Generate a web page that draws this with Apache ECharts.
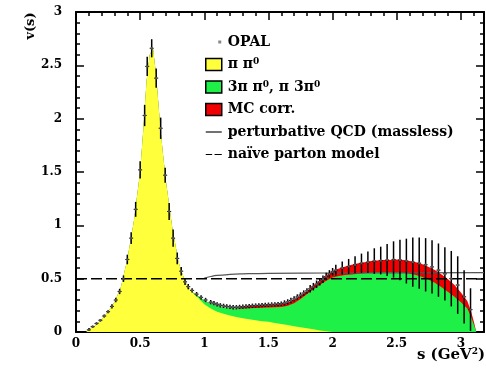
<!DOCTYPE html>
<html>
<head>
<meta charset="utf-8">
<script src="https://cdn.jsdelivr.net/npm/echarts@6/dist/echarts.min.js"></script>
<style>
html, body { margin: 0; padding: 0; background: #fff; }
#chart { width: 486px; height: 373px; }
</style>
</head>
<body>
<div id="chart"></div>
<script>
// bin centres of the stacked contributions (GeV^2)
var sBin = [0.08, 0.10, 0.15, 0.20, 0.25, 0.30, 0.35, 0.40, 0.45, 0.50,
    0.525, 0.55, 0.575, 0.60, 0.625, 0.65, 0.675, 0.70, 0.75, 0.80,
    0.85, 0.90, 0.95, 1.00, 1.05, 1.10, 1.15, 1.20, 1.25, 1.30,
    1.35, 1.40, 1.45, 1.50, 1.55, 1.60, 1.65, 1.70, 1.75, 1.80,
    1.85, 1.90, 1.95, 2.00, 2.05, 2.10, 2.15, 2.20, 2.25, 2.30,
    2.35, 2.40, 2.45, 2.50, 2.55, 2.60, 2.65, 2.70, 2.75, 2.80,
    2.85, 2.90, 2.95, 3.00, 3.05, 3.08, 3.10, 3.12];
// pi pi0 contribution
var vPiPi0 = [0, 0.02, 0.06, 0.12, 0.19, 0.28, 0.42, 0.68, 1.03, 1.50,
    1.90, 2.35, 2.60, 2.66, 2.40, 2.02, 1.70, 1.42, 0.98, 0.65,
    0.47, 0.38, 0.32, 0.26, 0.22, 0.19, 0.17, 0.155, 0.14, 0.13,
    0.12, 0.11, 0.10, 0.095, 0.085, 0.075, 0.065, 0.055, 0.045, 0.035,
    0.025, 0.015, 0.008, 0, 0, 0, 0, 0, 0, 0,
    0, 0, 0, 0, 0, 0, 0, 0, 0, 0,
    0, 0, 0, 0, 0, 0, 0, 0];
// 3pi pi0, pi 3pi0 contribution
var vFourPi = [0, 0, 0, 0, 0, 0, 0, 0, 0, 0,
    0, 0, 0, 0, 0, 0, 0, 0, 0, 0,
    0, 0, 0.02, 0.035, 0.045, 0.055, 0.06, 0.067, 0.078, 0.09,
    0.102, 0.115, 0.128, 0.135, 0.147, 0.16, 0.18, 0.215, 0.265, 0.32,
    0.375, 0.425, 0.472, 0.51, 0.525, 0.535, 0.54, 0.545, 0.55, 0.555,
    0.56, 0.56, 0.56, 0.56, 0.555, 0.545, 0.535, 0.515, 0.49, 0.46,
    0.42, 0.375, 0.33, 0.28, 0.22, 0.14, 0.07, 0];
// MC corrections
var vMcCorr = [0, 0, 0, 0, 0, 0, 0, 0, 0, 0,
    0, 0, 0, 0, 0, 0, 0, 0, 0, 0,
    0, 0, 0, 0, 0, 0, 0, 0, 0, 0.02,
    0.025, 0.025, 0.025, 0.025, 0.025, 0.025, 0.03, 0.03, 0.03, 0.03,
    0.035, 0.04, 0.05, 0.06, 0.07, 0.08, 0.09, 0.10, 0.105, 0.11,
    0.11, 0.115, 0.115, 0.12, 0.12, 0.12, 0.12, 0.12, 0.12, 0.12,
    0.12, 0.12, 0.11, 0.09, 0.07, 0.05, 0.03, 0];

// OPAL points
var sOpal = [0.10, 0.13, 0.16, 0.19, 0.22, 0.25, 0.28, 0.31, 0.34, 0.37,
    0.40, 0.43, 0.465, 0.50, 0.535, 0.555, 0.59, 0.625, 0.66, 0.695,
    0.726, 0.757, 0.789, 0.82, 0.85, 0.875, 0.905, 0.94, 0.975, 1.01, 1.05,
    1.075, 1.100, 1.125, 1.150, 1.175, 1.200, 1.225, 1.250, 1.275, 1.300,
    1.325, 1.350, 1.375, 1.400, 1.425, 1.450, 1.475, 1.500, 1.525, 1.550,
    1.575, 1.600, 1.625, 1.650, 1.675, 1.700, 1.725, 1.750, 1.775, 1.800,
    1.825, 1.850, 1.875, 1.900, 1.925, 1.950, 1.975, 2.000,
    2.025, 2.075, 2.125, 2.175, 2.225, 2.275, 2.325, 2.375, 2.425, 2.475,
    2.525, 2.575, 2.625, 2.675, 2.725, 2.775, 2.825, 2.875, 2.925, 2.975,
    3.025, 3.075];
var vOpal = [0.02, 0.05, 0.08, 0.11, 0.15, 0.19, 0.24, 0.30, 0.38, 0.50,
    0.68, 0.88, 1.15, 1.52, 2.03, 2.49, 2.66, 2.38, 1.91, 1.47,
    1.13, 0.88, 0.69, 0.57, 0.47, 0.425, 0.39, 0.355, 0.325, 0.30, 0.28,
    0.27, 0.26, 0.25, 0.245, 0.24, 0.235, 0.232, 0.232, 0.235, 0.238,
    0.24, 0.243, 0.246, 0.248, 0.25, 0.252, 0.254, 0.256, 0.258, 0.26,
    0.262, 0.266, 0.272, 0.282, 0.295, 0.31, 0.328, 0.346, 0.365, 0.385,
    0.405, 0.425, 0.448, 0.47, 0.495, 0.52, 0.545, 0.565,
    0.58, 0.60, 0.615, 0.63, 0.645, 0.655, 0.665, 0.67, 0.675, 0.68,
    0.675, 0.665, 0.655, 0.645, 0.63, 0.61, 0.58, 0.545, 0.50, 0.44,
    0.33, 0.21];
var eOpal = [0.01, 0.01, 0.012, 0.012, 0.015, 0.015, 0.02, 0.02, 0.025, 0.03,
    0.045, 0.055, 0.07, 0.08, 0.1, 0.09, 0.085, 0.09, 0.1, 0.07,
    0.08, 0.08, 0.055, 0.04, 0.03, 0.025, 0.02, 0.02, 0.02, 0.02, 0.02,
    0.02, 0.02, 0.02, 0.02, 0.02, 0.02, 0.02, 0.02, 0.02, 0.02,
    0.02, 0.02, 0.02, 0.02, 0.02, 0.02, 0.02, 0.02, 0.02, 0.02,
    0.02, 0.02, 0.025, 0.025, 0.025, 0.025, 0.025, 0.025, 0.025, 0.025,
    0.035, 0.035, 0.035, 0.035, 0.035, 0.035, 0.035, 0.035,
    0.05, 0.06, 0.07, 0.08, 0.09, 0.1, 0.12, 0.13, 0.15, 0.17,
    0.19, 0.21, 0.23, 0.24, 0.25, 0.25, 0.25, 0.25, 0.26, 0.27,
    0.25, 0.2];

// perturbative QCD (massless)
var sQcd = [1.0, 1.05, 1.1, 1.2, 1.3, 1.5, 2.0, 2.5, 3.18];
var vQcd = [0.505, 0.52, 0.53, 0.54, 0.545, 0.55, 0.553, 0.555, 0.556];
// naive parton model
var sParton = [0, 3.18];
var vParton = [0.5, 0.5];

var xMax = 3.18;
var yMax = 3;

var FONT = 'DejaVu Serif';
var names = ['OPAL', 'π π⁰', '3π π⁰, π 3π⁰', 'MC corr.', 'perturbative QCD (massless)', 'naïve parton model'];

// running sums of the contributions, drawn back to front
var upTo = function (n) {
    return sBin.map(function (s, i) {
        var parts = [vPiPi0[i], vFourPi[i], vMcCorr[i]];
        var sum = 0;
        for (var k = 0; k < n; k++) sum += parts[k];
        return [s, sum];
    });
};

var initChart = function () {
    var chart = echarts.init(document.getElementById('chart'), null, {renderer: 'canvas'});

    var tickLine = {color: '#000', width: 1.5};
    var xBase = {
        type: 'value', min: 0, max: xMax, splitLine: {show: false}
    };
    var yBase = {
        type: 'value', min: 0, max: yMax, interval: 0.5, splitLine: {show: false}
    };
    var boxStyle = {borderColor: '#000', borderWidth: 1.5};

    var option = {
        animation: false,
        grid: {left: 76, right: 2, top: 12, bottom: 41, containLabel: false, outerBoundsMode: 'none'},
        xAxis: [
            echarts.util.merge({
                position: 'bottom', interval: 0.5,
                axisLine: {show: true, onZero: false, lineStyle: {color: '#000', width: 2}},
                axisTick: {inside: true, length: 8, lineStyle: tickLine},
                axisLabel: {showMaxLabel: false, margin: 6, color: '#000', fontFamily: FONT, fontWeight: 'bold', fontSize: 12}
            }, xBase, true),
            echarts.util.merge({
                position: 'bottom', interval: 0.1,
                axisLine: {show: false, onZero: false},
                axisTick: {inside: true, length: 4, lineStyle: tickLine},
                axisLabel: {show: false}
            }, xBase, true),
            echarts.util.merge({
                position: 'top', interval: 0.5,
                axisLine: {show: true, onZero: false, lineStyle: {color: '#000', width: 2}},
                axisTick: {inside: true, length: 8, lineStyle: tickLine},
                axisLabel: {show: false}
            }, xBase, true),
            echarts.util.merge({
                position: 'top', interval: 0.1,
                axisLine: {show: false, onZero: false},
                axisTick: {inside: true, length: 4, lineStyle: tickLine},
                axisLabel: {show: false}
            }, xBase, true)
        ],
        yAxis: [
            echarts.util.merge({
                position: 'left',
                axisLine: {show: true, onZero: false, lineStyle: {color: '#000', width: 2}},
                axisTick: {inside: true, length: 8, lineStyle: tickLine},
                minorTick: {show: true, splitNumber: 5, length: 4, lineStyle: tickLine},
                axisLabel: {margin: 14, color: '#000', fontFamily: FONT, fontWeight: 'bold', fontSize: 12}
            }, yBase, true),
            echarts.util.merge({
                position: 'right',
                axisLine: {show: true, onZero: false, lineStyle: {color: '#000', width: 2}},
                axisTick: {inside: true, length: 8, lineStyle: tickLine},
                minorTick: {show: true, splitNumber: 5, length: 4, lineStyle: tickLine},
                axisLabel: {show: false}
            }, yBase, true)
        ],
        legend: {
            orient: 'vertical',
            left: 200, top: 30,
            itemWidth: 16, itemHeight: 12, itemGap: 8.5,
            selectedMode: false,
            formatter: function (name) {
                return name.replace(/⁰/g, '{sup|0}');
            },
            textStyle: {
                color: '#000', fontFamily: FONT, fontWeight: 'bold', fontSize: 14, lineHeight: 14,
                padding: [0, 0, 0, 1],
                rich: {sup: {fontSize: 9, lineHeight: 14, verticalAlign: 'top', fontFamily: FONT, fontWeight: 'bold', color: '#000'}}
            },
            data: [
                {name: names[0], icon: 'path://M0,0M16,12M12.5,4.5h3v3h-3z', itemStyle: {color: '#888', borderWidth: 0}},
                {name: names[1], icon: 'rect', itemStyle: boxStyle},
                {name: names[2], icon: 'rect', itemStyle: boxStyle},
                {name: names[3], icon: 'rect', itemStyle: boxStyle},
                {name: names[4], icon: 'path://M0,0M16,12M-4,5.3h20v1.4h-20z', itemStyle: {color: '#000', borderWidth: 0}},
                {name: names[5], icon: 'path://M0,0M16,12M-4,5.3h8v1.4h-8zM7,5.3h9v1.4h-9z', itemStyle: {color: '#000', borderWidth: 0}}
            ]
        },
        graphic: [{
            type: 'text', x: 31, y: 26, rotation: Math.PI / 2,
            style: {text: 'v(s)', align: 'center', verticalAlign: 'middle', fill: '#000',
                font: 'bold 13px ' + FONT}
        }, {
            type: 'text', x: 485, y: 355,
            style: {
                text: 's (GeV{sup|2})', align: 'right', verticalAlign: 'middle', fill: '#000',
                font: 'bold 15px ' + FONT,
                rich: {sup: {fontSize: 9, fontWeight: 'bold', fontFamily: FONT, fill: '#000', verticalAlign: 'top'}}
            }
        }],
        series: [
            {
                name: names[3], type: 'line', symbol: 'none', z: 1,
                data: upTo(3),
                lineStyle: {width: 0}, itemStyle: {color: '#f00000'},
                areaStyle: {color: '#f00000', opacity: 1}
            },
            {
                name: names[2], type: 'line', symbol: 'none', z: 1,
                data: upTo(2),
                lineStyle: {width: 0}, itemStyle: {color: '#1ff048'},
                areaStyle: {color: '#1ff048', opacity: 1}
            },
            {
                name: names[1], type: 'line', symbol: 'none', z: 1,
                data: upTo(1),
                lineStyle: {width: 0}, itemStyle: {color: '#ffff3c'},
                areaStyle: {color: '#ffff3c', opacity: 1}
            },
            {
                name: names[4], type: 'line', symbol: 'none', z: 3, smooth: true,
                data: sQcd.map(function (s, i) { return [s, vQcd[i]]; }),
                lineStyle: {color: '#555', width: 1.2}, itemStyle: {color: '#555'}
            },
            {
                name: names[5], type: 'line', symbol: 'none', z: 3,
                data: sParton.map(function (s, i) { return [s, vParton[i]]; }),
                lineStyle: {color: '#000', width: 1.5, type: [11, 4]}, itemStyle: {color: '#000'}
            },
            {
                name: names[0], type: 'custom', z: 5,
                data: sOpal.map(function (s, i) { return [s, vOpal[i], eOpal[i]]; }),
                encode: {x: 0, y: 1},
                itemStyle: {color: '#888'},
                renderItem: function (params, api) {
                    var s = api.value(0), v = api.value(1), e = api.value(2);
                    var p = api.coord([s, v]);
                    var hi = api.coord([s, v + e]);
                    var lo = api.coord([s, Math.max(0, v - e)]);
                    return {
                        type: 'group',
                        children: [
                            {type: 'line', shape: {x1: p[0], y1: hi[1], x2: p[0], y2: lo[1]},
                                style: {stroke: '#000', lineWidth: 1.5}},
                            {type: 'line', shape: {x1: p[0] - 2, y1: p[1], x2: p[0] + 2, y2: p[1]},
                                style: {stroke: '#000', lineWidth: 1}},
                            {type: 'circle', shape: {cx: p[0], cy: p[1], r: 1.2},
                                style: {fill: '#555'}}
                        ]
                    };
                }
            }
        ]
    };
    chart.setOption(option);
};

initChart();
</script>
</body>
</html>
